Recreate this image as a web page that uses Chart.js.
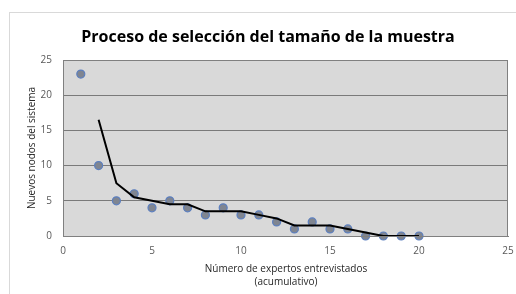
<!DOCTYPE html>
<html><head><meta charset="utf-8">
<script src="https://cdn.jsdelivr.net/npm/chart.js@4"></script>
<style>html,body{margin:0;padding:0;background:#fff}#wrap{width:516px;height:294px;position:relative}</style>
</head><body><div id="wrap"><canvas id="c" width="516" height="294"></canvas></div>
<script>
const expertos = [1,2,3,4,5,6,7,8,9,10,11,12,13,14,15,16,17,18,19,20];
const nuevosNodos = [23,10,5,6,4,5,4,3,4,3,3,2,1,2,1,1,0,0,0,0];
const mediaX = [2,3,4,5,6,7,8,9,10,11,12,13,14,15,16,17,18,19,20];
const mediaY = [16.5,7.5,5.5,5,4.5,4.5,3.5,3.5,3.5,3,2.5,1.5,1.5,1.5,1,0.5,0,0,0];
const ticks = [0,5,10,15,20,25];
const titulo = 'Proceso de selección del tamaño de la muestra';
const tituloY = 'Nuevos nodos del sistema';
const tituloX = ['Número de expertos entrevistados','(acumulativo)'];

const deco = {
  id:'deco',
  beforeDraw(chart){
    const {ctx, chartArea:a} = chart;
    ctx.save();
    ctx.fillStyle='#fff'; ctx.fillRect(0,0,chart.width,chart.height);
    ctx.strokeStyle='#d9d9d9'; ctx.lineWidth=1;
    ctx.strokeRect(9.5,12.5,chart.width+10,chart.height+10);
    ctx.fillStyle='#d9d9d9';
    ctx.fillRect(a.left,a.top,a.right-a.left,a.bottom-a.top);
    ctx.restore();
  },
  afterDraw(chart){
    const {ctx, chartArea:a} = chart;
    ctx.save();
    ctx.strokeStyle='#808080'; ctx.lineWidth=1;
    ctx.strokeRect(a.left+0.5,a.top+0.5,a.right-a.left-1,a.bottom-a.top);
    ctx.fillStyle='#000';
    ctx.textAlign='center'; ctx.textBaseline='middle';
    ctx.font='bold 16px "Open Sans", sans-serif';
    ctx.fillText(titulo, 268, 37);
    ctx.fillStyle='#262626';
    ctx.font='10px "Open Sans", sans-serif';
    ctx.fillText(tituloX[0], 286, 269);
    ctx.fillText(tituloX[1], 286, 282);
    ctx.translate(32,148); ctx.rotate(-Math.PI/2);
    ctx.fillText(tituloY, 0, 0);
    ctx.restore();
  }
};

new Chart(document.getElementById('c'), {
  type:'scatter',
  data:{datasets:[
    {type:'line', data: mediaX.map((x,i)=>({x, y:mediaY[i]})), borderColor:'#000', borderWidth:2, pointRadius:0, fill:false, order:0, clip:false},
    {data: expertos.map((x,i)=>({x, y:nuevosNodos[i]})), backgroundColor:'#7f8591', borderColor:'#5b7fc0', borderWidth:1.2, pointRadius:4, order:1, clip:false}
  ]},
  options:{
    responsive:false, animation:false, devicePixelRatio:1,
    layout:{padding:{left:0,right:8,top:60,bottom:0}},
    plugins:{legend:{display:false}, title:{display:false}, tooltip:{enabled:false}},
    scales:{
      x:{type:'linear', min:0, max:25, afterBuildTicks(s){s.ticks=ticks.map(v=>({value:v}));},
        grid:{display:false, drawTicks:false},
        border:{display:true,color:'#808080'},
        ticks:{color:'#595959', font:{family:'"Open Sans", sans-serif', size:10}, padding:9, maxRotation:0},
        afterFit(s){s.height=58; s.paddingRight=0; s.paddingLeft=0;}},
      y:{min:0, max:25, afterBuildTicks(s){s.ticks=ticks.map(v=>({value:v}));},
        grid:{color:'#7a7a7a', drawTicks:false, lineWidth:1},
        border:{display:true,color:'#808080'},
        ticks:{color:'#595959', font:{family:'"Open Sans", sans-serif', size:10}, padding:11},
        afterFit(s){s.width=63; s.paddingTop=0; s.paddingBottom=0;}}
    }
  },
  plugins:[deco]
});
</script></body></html>
